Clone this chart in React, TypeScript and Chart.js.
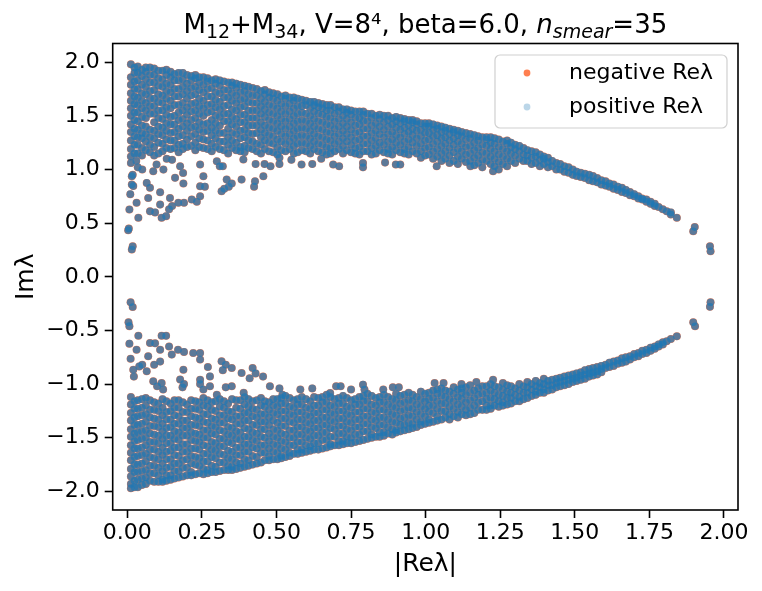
import { useEffect, useRef } from 'react'
import { Chart, registerables } from 'chart.js'

Chart.register(...registerables)

const FONT = 'DejaVu Sans'
const ORANGE = 'rgb(255,127,80)'
const BLUE = 'rgba(31,119,180,0.72)'
const BLUE_LEGEND = 'rgba(31,119,180,0.3)'

const seriesLabels = ['negative Reλ', 'positive Reλ']
const xTickValues = [0, 0.25, 0.5, 0.75, 1, 1.25, 1.5, 1.75, 2]
const yTickValues = [-2, -1.5, -1, -0.5, 0, 0.5, 1, 1.5, 2]

// dense upper band, one row per |Re λ| column: [x, Im λ ...]
const upperBand: number[][] = [
  [0.012, 1.12, 1.19, 1.27, 1.35, 1.42, 1.5, 1.57, 1.64, 1.71, 1.79, 1.86, 1.98],
  [0.035, 1.15, 1.23, 1.3, 1.37, 1.45, 1.53, 1.6, 1.67, 1.75, 1.83, 1.9, 1.96],
  [0.062, 1.18, 1.26, 1.33, 1.4, 1.48, 1.55, 1.62, 1.7, 1.77, 1.84, 1.91, 1.95],
  [0.09, 1.13, 1.21, 1.29, 1.36, 1.44, 1.52, 1.59, 1.66, 1.74, 1.81, 1.88, 1.94],
  [0.118, 1.17, 1.24, 1.32, 1.39, 1.47, 1.55, 1.62, 1.69, 1.77, 1.84, 1.92],
  [0.145, 1.19, 1.27, 1.34, 1.42, 1.49, 1.57, 1.64, 1.72, 1.79, 1.86, 1.91],
  [0.172, 1.16, 1.23, 1.31, 1.38, 1.46, 1.53, 1.6, 1.68, 1.75, 1.83, 1.9],
  [0.2, 1.21, 1.28, 1.36, 1.43, 1.51, 1.58, 1.66, 1.73, 1.8, 1.88],
  [0.228, 1.18, 1.25, 1.33, 1.4, 1.48, 1.55, 1.62, 1.7, 1.77, 1.85, 1.88],
  [0.255, 1.2, 1.28, 1.35, 1.42, 1.5, 1.57, 1.64, 1.72, 1.79, 1.86],
  [0.283, 1.17, 1.24, 1.32, 1.39, 1.46, 1.54, 1.61, 1.68, 1.76, 1.83],
  [0.31, 1.19, 1.26, 1.34, 1.41, 1.49, 1.56, 1.63, 1.71, 1.78, 1.83],
  [0.338, 1.15, 1.23, 1.3, 1.38, 1.45, 1.52, 1.6, 1.67, 1.74, 1.81],
  [0.365, 1.18, 1.25, 1.33, 1.4, 1.47, 1.55, 1.62, 1.69, 1.76, 1.8],
  [0.393, 1.16, 1.22, 1.3, 1.37, 1.44, 1.51, 1.59, 1.66, 1.73, 1.78],
  [0.42, 1.19, 1.26, 1.33, 1.41, 1.48, 1.55, 1.62, 1.69, 1.76],
  [0.448, 1.15, 1.23, 1.3, 1.37, 1.44, 1.52, 1.59, 1.66, 1.73],
  [0.475, 1.17, 1.25, 1.32, 1.39, 1.46, 1.53, 1.6, 1.67, 1.72],
  [0.503, 1.14, 1.21, 1.28, 1.36, 1.43, 1.5, 1.57, 1.64, 1.7],
  [0.53, 1.17, 1.24, 1.31, 1.38, 1.45, 1.52, 1.59, 1.66, 1.69],
  [0.558, 1.15, 1.22, 1.29, 1.36, 1.43, 1.5, 1.57, 1.64, 1.67],
  [0.585, 1.18, 1.25, 1.32, 1.39, 1.46, 1.53, 1.59, 1.65],
  [0.613, 1.15, 1.22, 1.29, 1.36, 1.43, 1.5, 1.57, 1.63],
  [0.64, 1.17, 1.24, 1.31, 1.38, 1.45, 1.52, 1.58, 1.62],
  [0.668, 1.14, 1.21, 1.28, 1.35, 1.42, 1.49, 1.55, 1.6],
  [0.695, 1.17, 1.24, 1.31, 1.38, 1.45, 1.52, 1.58],
  [0.723, 1.15, 1.22, 1.29, 1.36, 1.43, 1.5, 1.56],
  [0.75, 1.16, 1.23, 1.3, 1.37, 1.44, 1.51, 1.55],
  [0.778, 1.14, 1.21, 1.28, 1.35, 1.42, 1.48, 1.54],
  [0.805, 1.17, 1.24, 1.31, 1.38, 1.45, 1.52],
  [0.833, 1.15, 1.22, 1.29, 1.36, 1.43, 1.5],
  [0.86, 1.16, 1.23, 1.3, 1.37, 1.44, 1.5],
  [0.888, 1.14, 1.21, 1.28, 1.35, 1.42, 1.48],
  [0.915, 1.16, 1.23, 1.3, 1.37, 1.43, 1.48],
  [0.943, 1.14, 1.21, 1.28, 1.35, 1.41, 1.46],
  [0.97, 1.15, 1.22, 1.29, 1.36, 1.42, 1.45],
  [0.998, 1.13, 1.2, 1.27, 1.34, 1.4, 1.43],
  [1.025, 1.1, 1.17, 1.24, 1.31, 1.37, 1.42],
  [1.053, 1.08, 1.15, 1.22, 1.29, 1.35, 1.4],
  [1.08, 1.06, 1.13, 1.2, 1.27, 1.33, 1.38],
  [1.108, 1.05, 1.12, 1.19, 1.26, 1.32, 1.36],
  [1.135, 1.07, 1.14, 1.21, 1.28, 1.34],
  [1.163, 1.04, 1.11, 1.18, 1.25, 1.32],
  [1.19, 1.02, 1.09, 1.16, 1.23, 1.3],
  [1.218, 1.05, 1.12, 1.19, 1.25, 1.3],
  [1.245, 1.0, 1.07, 1.14, 1.21, 1.28],
  [1.273, 1.03, 1.1, 1.17, 1.24, 1.27],
  [1.3, 1.06, 1.13, 1.19, 1.23],
  [1.328, 1.08, 1.14, 1.2],
  [1.355, 1.05, 1.11, 1.17],
  [1.383, 1.03, 1.09, 1.14],
  [1.41, 1.02, 1.07, 1.11],
  [1.438, 1.0, 1.06],
  [1.465, 0.98, 1.03],
  [1.493, 0.95, 1.0],
  [1.52, 0.93, 0.97],
  [1.548, 0.9, 0.95],
  [1.575, 0.88, 0.92],
  [1.603, 0.85, 0.89],
  [1.63, 0.82, 0.86],
  [1.658, 0.79, 0.83],
  [1.685, 0.76, 0.79],
  [1.713, 0.73, 0.75],
  [1.74, 0.7, 0.72],
  [1.768, 0.66, 0.68],
  [1.795, 0.63],
  [1.822, 0.58, 0.6],
  [1.842, 0.55],
]

// eigenvalues lying between the columns above
const upperBandFill: number[][] = [
  [0.024, 1.15, 1.23, 1.31, 1.38, 1.46, 1.53, 1.61, 1.68, 1.75, 1.82, 1.9, 1.95],
  [0.049, 1.13, 1.2, 1.29, 1.34, 1.41, 1.49, 1.57, 1.64, 1.71, 1.79, 1.87, 1.93],
  [0.076, 1.16, 1.23, 1.3, 1.37, 1.52, 1.59, 1.66, 1.73, 1.81, 1.88, 1.95],
  [0.104, 1.15, 1.25, 1.33, 1.4, 1.48, 1.55, 1.63, 1.7, 1.78, 1.85, 1.92],
  [0.131, 1.2, 1.28, 1.36, 1.43, 1.51, 1.58, 1.66, 1.73, 1.8, 1.88, 1.93],
  [0.158, 1.2, 1.27, 1.35, 1.42, 1.5, 1.6, 1.68, 1.75, 1.83, 1.89],
  [0.186, 1.19, 1.24, 1.32, 1.4, 1.47, 1.55, 1.62, 1.7, 1.77, 1.84, 1.9],
  [0.214, 1.22, 1.31, 1.39, 1.46, 1.54, 1.61, 1.69, 1.76, 1.83, 1.87],
  [0.241, 1.21, 1.29, 1.37, 1.44, 1.52, 1.59, 1.66, 1.74, 1.81, 1.86],
  [0.269, 1.19, 1.27, 1.36, 1.43, 1.53, 1.6, 1.68, 1.75, 1.82, 1.85],
  [0.296, 1.21, 1.29, 1.36, 1.43, 1.5, 1.58, 1.65, 1.72, 1.8, 1.84],
  [0.324, 1.18, 1.26, 1.34, 1.45, 1.52, 1.59, 1.67, 1.74, 1.82],
  [0.351, 1.2, 1.27, 1.34, 1.42, 1.49, 1.56, 1.64, 1.71, 1.78, 1.81],
  [0.379, 1.17, 1.21, 1.29, 1.36, 1.44, 1.51, 1.58, 1.65, 1.72, 1.79],
  [0.406, 1.2, 1.27, 1.34, 1.41, 1.48, 1.55, 1.63, 1.7, 1.77],
  [0.434, 1.17, 1.24, 1.34, 1.41, 1.48, 1.55, 1.62, 1.69, 1.75],
  [0.461, 1.19, 1.27, 1.34, 1.41, 1.49, 1.56, 1.63, 1.7, 1.74],
  [0.489, 1.16, 1.24, 1.31, 1.38, 1.45, 1.52, 1.59, 1.66, 1.71],
  [0.516, 1.18, 1.26, 1.33, 1.4, 1.47, 1.54, 1.61, 1.68],
  [0.544, 1.19, 1.26, 1.33, 1.4, 1.47, 1.54, 1.61, 1.67],
  [0.571, 1.16, 1.24, 1.31, 1.38, 1.45, 1.52, 1.59, 1.66],
  [0.599, 1.17, 1.24, 1.31, 1.38, 1.45, 1.52, 1.6, 1.64],
  [0.626, 1.19, 1.26, 1.33, 1.4, 1.47, 1.54, 1.6, 1.63],
  [0.654, 1.16, 1.23, 1.3, 1.37, 1.44, 1.51, 1.57, 1.61],
  [0.681, 1.15, 1.2, 1.27, 1.34, 1.41, 1.48, 1.55, 1.6],
  [0.709, 1.19, 1.26, 1.33, 1.4, 1.47, 1.54, 1.58],
  [0.736, 1.18, 1.26, 1.33, 1.4, 1.47, 1.53, 1.56],
  [0.764, 1.15, 1.2, 1.27, 1.34, 1.41, 1.48, 1.54],
  [0.791, 1.17, 1.24, 1.31, 1.38, 1.45, 1.51, 1.54],
  [0.819, 1.14, 1.2, 1.27, 1.34, 1.41, 1.48, 1.52],
  [0.846, 1.18, 1.25, 1.33, 1.4, 1.47, 1.51],
  [0.874, 1.15, 1.19, 1.26, 1.33, 1.4, 1.46, 1.5],
  [0.901, 1.18, 1.25, 1.32, 1.39, 1.45, 1.49],
  [0.929, 1.15, 1.19, 1.26, 1.33, 1.39, 1.45, 1.47],
  [0.956, 1.17, 1.25, 1.32, 1.38, 1.44, 1.46],
  [0.984, 1.11, 1.17, 1.24, 1.31, 1.37, 1.43],
  [1.011, 1.14, 1.21, 1.28, 1.34, 1.4, 1.43],
  [1.039, 1.12, 1.19, 1.26, 1.32, 1.38, 1.41],
  [1.066, 1.1, 1.17, 1.24, 1.3, 1.36, 1.39],
  [1.094, 1.08, 1.16, 1.23, 1.29, 1.35, 1.37],
  [1.121, 1.1, 1.17, 1.24, 1.31, 1.35],
  [1.149, 1.08, 1.15, 1.22, 1.29, 1.33],
  [1.176, 1.06, 1.13, 1.2, 1.27, 1.31],
  [1.204, 1.08, 1.15, 1.22, 1.28, 1.3],
  [1.231, 1.03, 1.1, 1.17, 1.24, 1.29],
  [1.259, 1.05, 1.12, 1.19, 1.26],
  [1.286, 1.08, 1.15, 1.21, 1.25],
  [1.314, 1.1, 1.17, 1.22],
  [1.341, 1.08, 1.13, 1.18],
  [1.369, 1.06, 1.12, 1.16],
  [1.396, 1.05, 1.1, 1.12],
  [1.424, 1.03, 1.08],
  [1.451, 1.0, 1.05],
  [1.479, 0.97, 1.02],
  [1.506, 0.94, 0.98],
  [1.534, 0.92, 0.96],
  [1.561, 0.89, 0.94],
  [1.589, 0.86, 0.9],
  [1.616, 0.84, 0.87],
  [1.644, 0.81, 0.84],
  [1.671, 0.78, 0.81],
  [1.699, 0.75, 0.77],
  [1.726, 0.72, 0.73],
  [1.754, 0.68, 0.7],
  [1.781, 0.65],
  [1.808, 0.61],
]

// scattered eigenvalues below the upper band: [x, Im λ]
const upperSparse: number[][] = [
  [0.015, 0.937], [0.018, 0.95], [0.015, 0.86], [0.02, 0.845], [0.01, 0.77], [0.031, 0.69],
  [0.007, 0.627], [0.037, 0.55], [0.003, 0.434], [0.005, 0.45], [0.015, 0.254], [0.018, 0.285],
  [0.065, 0.875], [0.076, 0.83], [0.07, 0.735], [0.11, 0.788], [0.076, 0.61], [0.093, 0.6],
  [0.115, 0.55], [0.13, 0.565], [0.11, 0.673], [0.143, 0.735], [0.14, 0.63], [0.15, 0.66],
  [0.171, 0.69], [0.19, 0.69], [0.216, 0.72], [0.244, 0.75], [0.233, 0.7], [0.087, 0.984],
  [0.121, 0.999], [0.098, 1.046], [0.132, 1.1], [0.15, 1.09], [0.177, 1.03], [0.187, 0.967],
  [0.16, 0.922], [0.188, 0.869], [0.244, 1.046], [0.255, 0.937], [0.244, 0.844], [0.26, 0.84],
  [0.3, 1.077], [0.31, 1.03], [0.32, 1.03], [0.333, 0.906], [0.316, 0.797], [0.34, 0.84],
  [0.35, 0.87], [0.325, 0.82], [0.389, 1.093], [0.383, 0.906], [0.43, 1.05], [0.428, 0.89],
  [0.425, 0.84], [0.456, 0.937], [0.46, 1.05], [0.48, 1.03], [0.51, 1.05], [0.51, 1.11],
  [0.55, 1.09], [0.584, 1.046], [0.62, 1.05], [0.65, 1.1], [0.69, 1.046], [0.71, 1.03],
  [0.79, 1.06], [0.79, 1.02], [0.864, 1.064], [0.9, 1.046], [0.915, 1.046], [0.012, 1.06],
  [0.03, 1.08], [0.05, 1.0], [0.035, 1.02], [1.037, 1.03], [1.15, 1.03], [1.226, 0.984],
  [1.902, 0.463], [1.897, 0.424], [1.953, 0.284], [1.955, 0.238],
]

// dense lower band: [x, Im λ ...]
const lowerBand: number[][] = [
  [0.012, -1.12, -1.19, -1.27, -1.34, -1.42, -1.49, -1.57, -1.64, -1.71, -1.79, -1.86, -1.93, -1.97],
  [0.035, -1.15, -1.23, -1.3, -1.38, -1.45, -1.52, -1.6, -1.67, -1.75, -1.82, -1.89, -1.96],
  [0.062, -1.13, -1.2, -1.28, -1.35, -1.43, -1.5, -1.57, -1.65, -1.72, -1.8, -1.87, -1.93],
  [0.09, -1.17, -1.24, -1.32, -1.39, -1.47, -1.54, -1.61, -1.69, -1.76, -1.83, -1.91],
  [0.118, -1.14, -1.22, -1.29, -1.37, -1.44, -1.51, -1.59, -1.66, -1.74, -1.81, -1.89, -1.91],
  [0.145, -1.18, -1.25, -1.33, -1.4, -1.48, -1.55, -1.62, -1.7, -1.77, -1.85, -1.89],
  [0.172, -1.15, -1.22, -1.3, -1.37, -1.45, -1.52, -1.59, -1.67, -1.74, -1.81, -1.87],
  [0.2, -1.19, -1.26, -1.34, -1.41, -1.48, -1.56, -1.63, -1.7, -1.78, -1.85],
  [0.228, -1.16, -1.23, -1.31, -1.38, -1.46, -1.53, -1.6, -1.68, -1.75, -1.84],
  [0.255, -1.13, -1.2, -1.28, -1.35, -1.43, -1.5, -1.57, -1.65, -1.72, -1.79, -1.84],
  [0.283, -1.17, -1.24, -1.32, -1.39, -1.46, -1.54, -1.61, -1.68, -1.76, -1.82],
  [0.31, -1.14, -1.21, -1.29, -1.36, -1.43, -1.51, -1.58, -1.65, -1.73, -1.81],
  [0.338, -1.18, -1.25, -1.32, -1.4, -1.47, -1.54, -1.62, -1.69, -1.76, -1.8],
  [0.365, -1.15, -1.22, -1.3, -1.37, -1.44, -1.51, -1.59, -1.66, -1.73, -1.79],
  [0.393, -1.12, -1.19, -1.27, -1.34, -1.41, -1.49, -1.56, -1.63, -1.7, -1.77],
  [0.42, -1.16, -1.23, -1.3, -1.38, -1.45, -1.52, -1.59, -1.67, -1.75],
  [0.448, -1.13, -1.2, -1.28, -1.35, -1.42, -1.49, -1.57, -1.64, -1.73],
  [0.475, -1.17, -1.24, -1.31, -1.38, -1.46, -1.53, -1.6, -1.67, -1.71],
  [0.503, -1.14, -1.21, -1.28, -1.36, -1.43, -1.5, -1.57, -1.64, -1.7],
  [0.53, -1.11, -1.18, -1.25, -1.32, -1.39, -1.47, -1.54, -1.61, -1.68],
  [0.558, -1.15, -1.22, -1.29, -1.36, -1.43, -1.5, -1.57, -1.65],
  [0.585, -1.12, -1.19, -1.26, -1.33, -1.4, -1.47, -1.54, -1.61, -1.64],
  [0.613, -1.16, -1.23, -1.3, -1.37, -1.44, -1.51, -1.58, -1.62],
  [0.64, -1.13, -1.2, -1.27, -1.34, -1.41, -1.48, -1.55, -1.61],
  [0.668, -1.1, -1.17, -1.24, -1.31, -1.38, -1.45, -1.52, -1.59],
  [0.695, -1.14, -1.21, -1.28, -1.35, -1.42, -1.49, -1.57],
  [0.723, -1.11, -1.18, -1.25, -1.32, -1.39, -1.46, -1.53, -1.56],
  [0.75, -1.15, -1.22, -1.29, -1.36, -1.43, -1.5, -1.55],
  [0.778, -1.12, -1.19, -1.26, -1.33, -1.4, -1.47, -1.53],
  [0.805, -1.09, -1.16, -1.23, -1.3, -1.37, -1.44, -1.51],
  [0.833, -1.13, -1.2, -1.27, -1.34, -1.41, -1.49],
  [0.86, -1.1, -1.17, -1.24, -1.31, -1.38, -1.45, -1.48],
  [0.888, -1.14, -1.21, -1.28, -1.35, -1.42, -1.47],
  [0.915, -1.11, -1.18, -1.25, -1.32, -1.38, -1.44],
  [0.943, -1.08, -1.15, -1.22, -1.29, -1.36, -1.42],
  [0.97, -1.12, -1.19, -1.26, -1.33, -1.4],
  [0.998, -1.09, -1.16, -1.23, -1.3, -1.37],
  [1.025, -1.06, -1.13, -1.2, -1.27, -1.35],
  [1.053, -1.04, -1.11, -1.18, -1.25, -1.33],
  [1.08, -1.07, -1.14, -1.21, -1.28, -1.33],
  [1.108, -1.05, -1.12, -1.19, -1.26, -1.31],
  [1.135, -1.03, -1.1, -1.17, -1.24, -1.29],
  [1.163, -1.06, -1.13, -1.2, -1.27],
  [1.19, -1.02, -1.09, -1.16, -1.24],
  [1.218, -1.0, -1.06, -1.13, -1.2, -1.23],
  [1.245, -1.03, -1.1, -1.16, -1.21],
  [1.273, -1.01, -1.07, -1.13, -1.19],
  [1.3, -1.04, -1.1, -1.16],
  [1.328, -1.02, -1.08, -1.14],
  [1.355, -1.0, -1.05, -1.11],
  [1.383, -0.99, -1.03, -1.08],
  [1.41, -0.97, -1.01, -1.06],
  [1.438, -0.95, -0.99, -1.03],
  [1.465, -0.93, -0.97, -1.01],
  [1.493, -0.91, -0.95, -0.98],
  [1.52, -0.89, -0.92, -0.96],
  [1.548, -0.86, -0.9, -0.93],
  [1.575, -0.84, -0.88, -0.91],
  [1.603, -0.82, -0.85],
  [1.63, -0.79, -0.83],
  [1.658, -0.76, -0.8],
  [1.685, -0.74, -0.77],
  [1.713, -0.71, -0.74],
  [1.74, -0.68, -0.71],
  [1.768, -0.65, -0.67],
  [1.795, -0.61, -0.63],
  [1.822, -0.58],
  [1.842, -0.555],
]

const lowerBandFill: number[][] = [
  [0.024, -1.16, -1.23, -1.31, -1.38, -1.46, -1.53, -1.6, -1.68, -1.75, -1.82, -1.9, -1.96],
  [0.049, -1.14, -1.22, -1.29, -1.37, -1.44, -1.51, -1.59, -1.66, -1.74, -1.81, -1.88, -1.94],
  [0.076, -1.15, -1.24, -1.31, -1.39, -1.46, -1.54, -1.61, -1.68, -1.76, -1.83, -1.9],
  [0.104, -1.18, -1.25, -1.33, -1.4, -1.48, -1.55, -1.63, -1.7, -1.78, -1.85, -1.91],
  [0.131, -1.16, -1.26, -1.33, -1.41, -1.48, -1.55, -1.63, -1.7, -1.78, -1.85, -1.9],
  [0.158, -1.15, -1.22, -1.29, -1.37, -1.44, -1.51, -1.59, -1.66, -1.74, -1.81, -1.88],
  [0.186, -1.17, -1.26, -1.34, -1.41, -1.48, -1.56, -1.63, -1.71, -1.78, -1.86],
  [0.214, -1.15, -1.23, -1.3, -1.38, -1.45, -1.52, -1.6, -1.67, -1.74, -1.82, -1.85],
  [0.241, -1.17, -1.24, -1.32, -1.39, -1.47, -1.54, -1.61, -1.69, -1.76, -1.83],
  [0.269, -1.15, -1.21, -1.28, -1.36, -1.43, -1.5, -1.58, -1.65, -1.72, -1.8, -1.83],
  [0.296, -1.16, -1.25, -1.33, -1.4, -1.47, -1.55, -1.62, -1.69, -1.77, -1.82],
  [0.324, -1.16, -1.22, -1.29, -1.36, -1.44, -1.51, -1.58, -1.66, -1.73, -1.8],
  [0.351, -1.14, -1.26, -1.33, -1.41, -1.48, -1.55, -1.63, -1.7, -1.77, -1.8],
  [0.379, -1.15, -1.23, -1.3, -1.37, -1.45, -1.52, -1.59, -1.66, -1.74, -1.78],
  [0.406, -1.14, -1.21, -1.27, -1.34, -1.42, -1.49, -1.56, -1.63, -1.71, -1.76],
  [0.434, -1.15, -1.24, -1.31, -1.38, -1.46, -1.53, -1.6, -1.68, -1.74],
  [0.461, -1.16, -1.21, -1.28, -1.35, -1.42, -1.5, -1.57, -1.64, -1.71],
  [0.489, -1.14, -1.2, -1.27, -1.34, -1.42, -1.49, -1.56, -1.63, -1.7],
  [0.516, -1.13, -1.18, -1.25, -1.32, -1.39, -1.46, -1.53, -1.6, -1.67, -1.69],
  [0.544, -1.13, -1.21, -1.28, -1.35, -1.43, -1.5, -1.57, -1.64, -1.67],
  [0.571, -1.14, -1.19, -1.26, -1.33, -1.4, -1.47, -1.54, -1.61, -1.65],
  [0.599, -1.14, -1.22, -1.29, -1.36, -1.43, -1.5, -1.57, -1.63],
  [0.626, -1.12, -1.2, -1.27, -1.34, -1.41, -1.48, -1.55, -1.61],
  [0.654, -1.12, -1.17, -1.24, -1.31, -1.38, -1.45, -1.52, -1.6],
  [0.681, -1.12, -1.2, -1.27, -1.34, -1.41, -1.49, -1.56, -1.58],
  [0.709, -1.13, -1.18, -1.25, -1.32, -1.39, -1.46, -1.53, -1.57],
  [0.736, -1.13, -1.21, -1.28, -1.35, -1.42, -1.49, -1.55],
  [0.764, -1.14, -1.19, -1.26, -1.33, -1.4, -1.47, -1.54],
  [0.791, -1.11, -1.16, -1.23, -1.3, -1.37, -1.44, -1.52],
  [0.819, -1.11, -1.19, -1.26, -1.33, -1.4, -1.47, -1.5],
  [0.846, -1.12, -1.17, -1.24, -1.31, -1.38, -1.45, -1.49],
  [0.874, -1.12, -1.19, -1.26, -1.33, -1.4, -1.46],
  [0.901, -1.09, -1.15, -1.22, -1.29, -1.36, -1.43, -1.45],
  [0.929, -1.1, -1.17, -1.24, -1.31, -1.38, -1.43],
  [0.956, -1.1, -1.16, -1.23, -1.3, -1.37, -1.41],
  [0.984, -1.07, -1.14, -1.21, -1.28, -1.35, -1.38],
  [1.011, -1.08, -1.14, -1.2, -1.26, -1.33, -1.36],
  [1.039, -1.05, -1.09, -1.16, -1.23, -1.3, -1.34],
  [1.066, -1.06, -1.12, -1.18, -1.25, -1.31],
  [1.094, -1.03, -1.09, -1.16, -1.23, -1.3],
  [1.121, -1.04, -1.08, -1.14, -1.21, -1.28],
  [1.149, -1.01, -1.08, -1.15, -1.22, -1.28],
  [1.176, -1.04, -1.1, -1.17, -1.24],
  [1.204, -1.02, -1.08, -1.14, -1.2, -1.24],
  [1.231, -1.02, -1.08, -1.14, -1.2],
  [1.259, -0.99, -1.05, -1.11, -1.17, -1.2],
  [1.286, -1.02, -1.08, -1.13, -1.18],
  [1.314, -1.0, -1.06, -1.12, -1.16],
  [1.341, -0.98, -1.03, -1.08, -1.13],
  [1.369, -0.97, -1.02, -1.07, -1.1],
  [1.396, -0.95, -1.0, -1.05, -1.08],
  [1.424, -0.96, -1.01, -1.05],
  [1.451, -0.94, -0.98, -1.02],
  [1.479, -0.92, -0.96, -1.0],
  [1.506, -0.9, -0.94, -0.97],
  [1.534, -0.87, -0.91, -0.95],
  [1.561, -0.85, -0.89, -0.92],
  [1.589, -0.83, -0.86, -0.89],
  [1.616, -0.8, -0.84],
  [1.644, -0.78, -0.81],
  [1.671, -0.75, -0.79],
  [1.699, -0.72, -0.75],
  [1.726, -0.69, -0.72],
  [1.754, -0.66, -0.69],
  [1.781, -0.63, -0.65],
  [1.808, -0.6],
]

// scattered eigenvalues above the lower band: [x, Im λ]
const lowerSparse: number[][] = [
  [0.011, -0.238], [0.018, -0.281], [0.004, -0.424], [0.007, -0.46], [0.007, -0.623], [0.011, -0.763],
  [0.031, -0.68], [0.037, -0.549], [0.02, -0.866], [0.022, -0.93], [0.04, -0.835], [0.05, -0.82],
  [0.115, -0.549], [0.13, -0.55], [0.076, -0.617], [0.093, -0.62], [0.11, -0.68], [0.14, -0.65],
  [0.149, -0.725], [0.17, -0.68], [0.19, -0.7], [0.221, -0.71], [0.244, -0.71], [0.244, -0.77],
  [0.07, -0.74], [0.065, -0.88], [0.09, -0.82], [0.11, -0.79], [0.316, -0.787], [0.33, -0.82],
  [0.35, -0.85], [0.32, -0.87], [0.383, -0.896], [0.42, -0.85], [0.43, -0.9], [0.455, -0.93],
  [0.41, -0.945], [0.27, -0.84], [0.277, -0.928], [0.188, -0.866], [0.087, -0.974], [0.1, -1.02],
  [0.12, -1.05], [0.115, -0.99], [0.177, -0.958], [0.19, -1.0], [0.185, -1.03], [0.244, -0.96],
  [0.255, -1.05], [0.244, -1.0], [0.277, -1.02], [0.33, -1.03], [0.35, -1.02], [0.3, -1.1],
  [0.39, -1.08], [0.478, -1.02], [0.51, -1.04], [0.52, -1.1], [0.58, -1.05], [0.62, -1.04],
  [0.68, -1.083], [0.7, -1.02], [0.715, -1.02], [0.75, -1.05], [0.79, -1.005], [0.795, -1.05],
  [0.858, -1.05], [0.89, -1.03], [0.91, -1.03], [1.03, -0.99], [1.06, -0.99], [1.12, -1.0],
  [1.17, -0.98], [1.226, -0.96], [1.897, -0.424], [1.903, -0.461], [1.955, -0.238], [1.953, -0.28],
]

const fromBand = (band: number[][]) => band.flatMap(([x, ...ys]) => ys.map((y) => ({ x, y })))
const fromPairs = (pairs: number[][]) => pairs.map(([x, y]) => ({ x, y }))

const spectrum = [
  ...fromBand(upperBand),
  ...fromBand(upperBandFill),
  ...fromPairs(upperSparse),
  ...fromBand(lowerBand),
  ...fromBand(lowerBandFill),
  ...fromPairs(lowerSparse),
]

// matplotlib writes negative numbers with a real minus sign
const withMinus = (s: string) => s.replace('-', '\u2212')

// title, axis labels, legend and frame drawn by hand (matplotlib look)
const decorPlugin = {
  id: 'decor',
  afterDraw(chart: Chart) {
    const { ctx, chartArea } = chart
    const { left, right, top, bottom } = chartArea
    ctx.save()

    ctx.strokeStyle = '#000'
    ctx.lineWidth = 1.6
    ctx.strokeRect(left, top, right - left, bottom - top)

    ctx.fillStyle = '#000'
    // title with sub/superscripts
    const big = `26px "${FONT}"`
    const small = `19px "${FONT}"`
    const parts: [string, string, number][] = [
      ['M', big, 0],
      ['12', small, 5],
      ['+M', big, 0],
      ['34', small, 5],
      [', V=8⁴, beta=6.0, ', big, 0],
      ['n', `italic ${big}`, 0],
      ['smear', `italic ${small}`, 5],
      ['=35', big, 0],
    ]
    let total = 0
    const widths = parts.map(([t, f]) => {
      ctx.font = f
      const w = ctx.measureText(t).width
      total += w
      return w
    })
    let x = (left + right) / 2 - total / 2
    ctx.textAlign = 'left'
    ctx.textBaseline = 'alphabetic'
    parts.forEach(([t, f, dy], i) => {
      ctx.font = f
      ctx.fillText(t, x, 33 + dy)
      x += widths[i]
    })

    // axis labels
    ctx.font = `25px "${FONT}"`
    ctx.textAlign = 'center'
    ctx.fillText('|Reλ|', (left + right) / 2, 571)
    ctx.save()
    ctx.translate(33, (top + bottom) / 2)
    ctx.rotate(-Math.PI / 2)
    ctx.fillText('Imλ', 0, 0)
    ctx.restore()

    // legend
    const lx = 495
    const ly = 55
    const lw = 232
    const lh = 73
    ctx.beginPath()
    ctx.roundRect(lx, ly, lw, lh, 5)
    ctx.fillStyle = 'rgba(255,255,255,0.8)'
    ctx.fill()
    ctx.strokeStyle = '#d0d0d0'
    ctx.lineWidth = 1.2
    ctx.stroke()
    const markers = [ORANGE, BLUE_LEGEND]
    ctx.font = `22px "${FONT}"`
    ctx.textAlign = 'left'
    ctx.textBaseline = 'middle'
    seriesLabels.forEach((label, i) => {
      const cy = 73 + i * 34
      ctx.beginPath()
      ctx.arc(527, cy, 3.4, 0, Math.PI * 2)
      ctx.fillStyle = markers[i]
      ctx.fill()
      ctx.fillStyle = '#000'
      ctx.fillText(label, 569, cy)
    })
    ctx.restore()
  },
}

export default function App() {
  const canvasRef = useRef<HTMLCanvasElement>(null)
  const chartRef = useRef<Chart | null>(null)

  useEffect(() => {
    document.body.style.margin = '0'
    if (!canvasRef.current) return
    if (chartRef.current) chartRef.current.destroy()

    const tickFont = { family: FONT, size: 22 }
    const grid = {
      drawOnChartArea: false,
      drawTicks: true,
      tickLength: 8,
      tickColor: '#000',
      tickWidth: 1.6,
    }

    chartRef.current = new Chart(canvasRef.current, {
      type: 'scatter',
      data: {
        datasets: [
          {
            label: seriesLabels[0],
            data: spectrum,
            backgroundColor: ORANGE,
            pointRadius: 4,
            pointBorderWidth: 0,
            order: 2,
          },
          {
            label: seriesLabels[1],
            data: spectrum,
            backgroundColor: BLUE,
            pointRadius: 3.8,
            pointBorderWidth: 0,
            order: 1,
          },
        ],
      },
      options: {
        responsive: false,
        animation: false,
        layout: { padding: { left: 0, right: 24, top: 43.5, bottom: 0 } },
        plugins: {
          legend: { display: false },
          tooltip: { enabled: false },
          title: { display: false },
        },
        scales: {
          x: {
            type: 'linear',
            min: -0.049,
            max: 2.047,
            afterBuildTicks: (scale: any) => {
              scale.ticks = xTickValues.map((value) => ({ value }))
            },
            afterFit: (scale: any) => {
              scale.height = 81
            },
            ticks: {
              font: tickFont,
              color: '#000',
              padding: 2,
              maxRotation: 0,
              autoSkip: false,
              callback: (v: any) => Number(v).toFixed(2),
            },
            grid,
            border: { display: false },
          },
          y: {
            type: 'linear',
            min: -2.173,
            max: 2.174,
            afterBuildTicks: (scale: any) => {
              scale.ticks = yTickValues.map((value) => ({ value }))
            },
            afterFit: (scale: any) => {
              scale.width = 112.7
            },
            ticks: {
              font: tickFont,
              color: '#000',
              padding: 5,
              autoSkip: false,
              callback: (v: any) => withMinus(Number(v).toFixed(1)),
            },
            grid,
            border: { display: false },
          },
        },
      },
      plugins: [decorPlugin],
    })

    return () => {
      if (chartRef.current) {
        chartRef.current.destroy()
        chartRef.current = null
      }
    }
  }, [])

  return (
    <div style={{ width: 762, height: 591 }}>
      <canvas ref={canvasRef} width={762} height={591} />
    </div>
  )
}
